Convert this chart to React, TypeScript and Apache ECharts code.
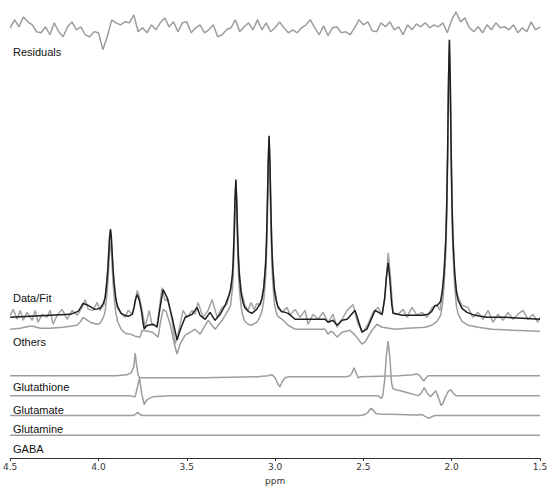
import React, { useEffect, useRef } from "react";
import * as echarts from "echarts";

// ppm / intensity pairs (intensity in display units relative to each trace's baseline)
const fitPoints: [number, number][] = [
  [4.5, 0], [4.387, 1], [4.274, 2], [4.16, 3], [4.115, 6], [4.1, 10], [4.087, 14], [4.07, 13], [4.058, 12],
  [4.03, 9], [4.019, 8], [3.991, 9], [3.972, 14], [3.962, 20], [3.952, 37], [3.947, 48], [3.942, 64],
  [3.937, 81], [3.932, 89], [3.927, 81], [3.922, 64], [3.917, 48], [3.912, 36], [3.902, 19], [3.892, 11],
  [3.872, 4], [3.85, 2], [3.832, 1], [3.809, 3], [3.798, 10], [3.792, 17], [3.781, 23], [3.77, 18],
  [3.758, 8], [3.748, -5], [3.741, -12], [3.73, -9], [3.719, -8], [3.69, -7], [3.668, -10], [3.651, 10],
  [3.634, 28], [3.611, 20], [3.583, 0], [3.566, -14], [3.555, -23], [3.538, -13], [3.509, 0], [3.47, 3],
  [3.442, 10], [3.425, 2], [3.396, -2], [3.368, 5], [3.34, -3], [3.311, 3], [3.283, 12], [3.262, 22],
  [3.252, 28], [3.242, 42], [3.237, 57], [3.232, 84], [3.227, 119], [3.222, 139], [3.217, 116],
  [3.212, 82], [3.207, 58], [3.202, 42], [3.192, 24], [3.182, 15], [3.172, 10], [3.152, 6], [3.132, 4],
  [3.104, 8], [3.084, 14], [3.074, 19], [3.064, 30], [3.054, 52], [3.049, 74], [3.044, 110], [3.039, 156],
  [3.034, 183], [3.029, 156], [3.024, 110], [3.019, 74], [3.014, 52], [3.004, 28], [2.994, 17], [2.984, 11],
  [2.964, 6], [2.944, 5], [2.926, 4], [2.887, -2], [2.802, -2], [2.717, -2], [2.7, -5], [2.672, -3],
  [2.649, -8], [2.621, -3], [2.592, -2], [2.547, 7], [2.508, -15], [2.48, -12], [2.434, 7], [2.394, 3],
  [2.38, 18], [2.37, 40], [2.36, 55], [2.35, 38], [2.34, 14], [2.332, 4], [2.281, 2], [2.225, 2],
  [2.168, 2], [2.134, 3], [2.113, 6], [2.094, 12], [2.083, 12], [2.063, 16], [2.053, 27], [2.043, 45],
  [2.033, 80], [2.028, 114], [2.023, 168], [2.018, 239], [2.013, 280], [2.008, 239], [2.003, 168],
  [1.998, 114], [1.993, 80], [1.983, 45], [1.973, 25], [1.963, 17], [1.942, 9], [1.913, 5], [1.868, 2],
  [1.8, 0], [1.7, 0], [1.6, -1], [1.5, -2],
];

const dataPoints: [number, number][] = [
  [4.5, 2], [4.483, 8], [4.46, -2], [4.443, 7], [4.426, -3], [4.404, 5], [4.375, -3], [4.358, 7],
  [4.342, -5], [4.319, 3], [4.291, 0], [4.274, 7], [4.257, -7], [4.234, 2], [4.206, 8], [4.177, -2],
  [4.149, 7], [4.121, 2], [4.092, 10], [4.075, 18], [4.058, 8], [4.03, 7], [4.008, 15], [3.991, 7],
  [3.968, 13], [3.957, 26], [3.947, 50], [3.942, 66], [3.937, 80], [3.932, 87], [3.927, 76], [3.922, 60],
  [3.917, 44], [3.911, 28], [3.894, 10], [3.872, 4], [3.849, 0], [3.832, 7], [3.809, 3], [3.792, 15],
  [3.781, 27], [3.77, 22], [3.753, 7], [3.736, -10], [3.713, 7], [3.696, -8], [3.668, -8], [3.64, 30],
  [3.622, 17], [3.606, 18], [3.583, -3], [3.566, -27], [3.549, -17], [3.521, 7], [3.498, 0], [3.47, 7],
  [3.453, 3], [3.436, 15], [3.408, 0], [3.379, 7], [3.357, 18], [3.328, 0], [3.3, 10], [3.272, 13],
  [3.255, 25], [3.242, 40], [3.237, 56], [3.232, 85], [3.227, 117], [3.222, 137], [3.217, 118],
  [3.212, 86], [3.207, 60], [3.202, 46], [3.192, 27], [3.182, 20], [3.17, 12], [3.153, 7], [3.136, 15],
  [3.119, 8], [3.102, 14], [3.084, 12], [3.074, 20], [3.064, 31], [3.054, 55], [3.049, 75], [3.044, 112],
  [3.039, 155], [3.034, 181], [3.029, 157], [3.024, 113], [3.019, 77], [3.014, 55], [3.004, 30],
  [2.994, 20], [2.984, 9], [2.96, 5], [2.932, 10], [2.915, 2], [2.887, 8], [2.858, 0], [2.83, 7],
  [2.813, -7], [2.785, 3], [2.757, -2], [2.728, 5], [2.7, -5], [2.672, 3], [2.649, -10], [2.621, -2],
  [2.592, 7], [2.559, 13], [2.53, -7], [2.502, -15], [2.474, -7], [2.445, 5], [2.417, 10], [2.394, 2],
  [2.377, 23], [2.365, 50], [2.36, 65], [2.355, 58], [2.349, 45], [2.332, 5], [2.304, 3], [2.275, 8],
  [2.253, 0], [2.225, 10], [2.196, 2], [2.168, 5], [2.14, 0], [2.111, 10], [2.083, 12], [2.066, 7],
  [2.053, 24], [2.043, 48], [2.033, 78], [2.028, 116], [2.023, 165], [2.018, 241], [2.013, 278],
  [2.008, 236], [2.003, 171], [1.998, 111], [1.993, 83], [1.983, 42], [1.973, 28], [1.963, 20],
  [1.942, 12], [1.908, 10], [1.88, 0], [1.851, 5], [1.823, -2], [1.794, 7], [1.766, -5], [1.738, 3],
  [1.709, -3], [1.681, 5], [1.653, -2], [1.625, 3], [1.596, 7], [1.568, -2], [1.54, 3], [1.512, -5], [1.5, 0],
];

const othersPoints: [number, number][] = [
  [4.5, 0], [4.443, 1], [4.39, 3], [4.37, 3], [4.33, 1], [4.274, 1], [4.2, 2], [4.121, 4], [4.1, 8],
  [4.087, 12], [4.07, 10], [4.047, 7], [4.008, 5], [3.991, 6], [3.972, 12], [3.962, 18], [3.952, 35],
  [3.947, 46], [3.942, 62], [3.937, 79], [3.932, 87], [3.927, 79], [3.922, 62], [3.917, 46], [3.912, 34],
  [3.902, 17], [3.892, 8], [3.872, 0], [3.849, -4], [3.82, -5], [3.792, -7], [3.764, -8], [3.753, -1],
  [3.72, -2], [3.696, -3], [3.662, -8], [3.651, 5], [3.634, 20], [3.617, 18], [3.594, 5], [3.566, -18],
  [3.555, -25], [3.538, -15], [3.509, -6], [3.47, -2], [3.453, 0], [3.425, -5], [3.379, 9], [3.34, 0],
  [3.3, 9], [3.266, 19], [3.252, 24], [3.242, 40], [3.237, 53], [3.232, 82], [3.227, 116], [3.222, 137],
  [3.217, 114], [3.212, 80], [3.207, 56], [3.202, 40], [3.192, 22], [3.182, 13], [3.172, 8], [3.152, 5],
  [3.132, 4], [3.104, 7], [3.084, 13], [3.074, 18], [3.064, 29], [3.054, 51], [3.049, 73], [3.044, 108],
  [3.039, 154], [3.034, 181], [3.029, 154], [3.024, 108], [3.019, 72], [3.014, 50], [3.004, 26],
  [2.994, 17], [2.984, 13], [2.96, 10], [2.926, 4], [2.887, 0], [2.8, 0], [2.717, 0], [2.7, -5],
  [2.686, -2], [2.672, -3], [2.649, -8], [2.621, -3], [2.576, -1], [2.547, -6], [2.508, -15],
  [2.491, -13], [2.451, -1], [2.423, 5], [2.394, 2], [2.321, 0], [2.25, 1], [2.151, 2], [2.113, 4],
  [2.083, 8], [2.063, 14], [2.053, 24], [2.043, 44], [2.033, 78], [2.028, 112], [2.023, 166],
  [2.018, 237], [2.013, 278], [2.008, 237], [2.003, 166], [1.998, 112], [1.993, 78], [1.983, 43],
  [1.973, 23], [1.963, 15], [1.942, 8], [1.908, 4], [1.85, 2], [1.772, 0], [1.65, -1], [1.512, -2], [1.5, -2],
];

const glutathionePoints: [number, number][] = [
  [4.5, 0], [3.9, 0], [3.84, 1], [3.815, 3], [3.8, 9], [3.792, 23], [3.785, 12], [3.775, 0], [3.765, -2],
  [3.7, -2], [3.4, -2], [3.1, -1], [3.04, 0], [3.017, 1], [3.0, -2], [2.985, -8], [2.972, -11],
  [2.96, -6], [2.943, -2], [2.92, -1], [2.6, -1], [2.576, 0], [2.565, 3], [2.553, 8], [2.541, 3],
  [2.53, -2], [2.515, -1], [2.3, 0], [2.22, 1], [2.197, 2], [2.18, 0], [2.165, -4], [2.157, -5],
  [2.145, -2], [2.134, 0], [1.5, 0],
];

const glutamatePoints: [number, number][] = [
  [4.5, 0], [3.82, 0], [3.8, -1], [3.792, -1], [3.78, 8], [3.768, 18], [3.755, 2], [3.741, -9],
  [3.73, -5], [3.715, -3], [3.69, -1], [3.6, 0], [2.44, 0], [2.423, 0], [2.41, -1], [2.4, -3],
  [2.39, 0], [2.38, 15], [2.37, 40], [2.36, 55], [2.35, 38], [2.34, 12], [2.332, 7], [2.315, 6],
  [2.29, 5], [2.25, 3], [2.21, 1], [2.19, 0], [2.175, 2], [2.165, 5], [2.155, 8], [2.14, 3], [2.12, -1],
  [2.105, 2], [2.09, 5], [2.075, -2], [2.06, -10], [2.05, -8], [2.035, -1], [2.02, 4], [2.005, 6],
  [1.99, 2], [1.975, 0], [1.5, 0],
];

const glutaminePoints: [number, number][] = [
  [4.5, 0], [3.8, 0], [3.785, 2], [3.775, 3], [3.765, 1], [3.75, 0], [2.52, 0], [2.49, 1], [2.475, 3],
  [2.463, 6], [2.453, 7], [2.443, 5], [2.43, 2], [2.41, 1.5], [2.3, 1], [2.2, 0.5], [2.17, 1],
  [2.15, -1], [2.129, -3], [2.11, -1], [2.095, 0], [1.5, 0],
];

const gabaPoints: [number, number][] = [[4.5, 0], [1.5, 0]];

// residuals sampled every 0.025 ppm starting at 4.5 ppm
const residualStartPpm = 4.5;
const residualStepPpm = 0.025;
const residualValues: number[] = [
  0, 8, 1, 11, 6, 3, -4, -5, 1, -7, 5, -4, -9, 1, 6, -2, 1, -7, -9, -4,
  -5, -22, -9, 8, 5, 3, 6, 5, 13, -4, 0, -5, 3, -2, 5, 10, 1, 6, -4, 5,
  6, -5, 0, 3, -5, -2, 3, -9, -7, -2, 0, 8, -4, 1, 5, -2, 8, -2, 5, -4,
  0, 6, 0, -5, -2, -5, 0, 3, 8, 0, -7, 2, -8, 0, 1, -5, -4, -7, 0, 8,
  3, 6, -3, -4, 5, 1, 6, -2, 1, -7, 3, -2, 4, 1, 5, 0, 3, 1, 5, -5,
  8, 16, 6, 10, 0, -4, 1, -5, 3, -2, 5, 0, 1, -2, 3, -5, 0, -4, 6, -2, 1,
];

const xTicks = { min: 1.5, max: 4.5, interval: 0.5 };

// vertical stacking offsets (layout)
const OFFSETS = {
  residual: 434,
  dataFit: 142,
  others: 130,
  glutathione: 83,
  glutamate: 63,
  glutamine: 43,
  gaba: 23,
};

const LABELS: { text: string; y: number }[] = [
  { text: "Residuals", y: 52 },
  { text: "Data/Fit", y: 298 },
  { text: "Others", y: 342 },
  { text: "Glutathione", y: 387 },
  { text: "Glutamate", y: 410 },
  { text: "Glutamine", y: 429 },
  { text: "GABA", y: 449 },
];

function shift(points: [number, number][], off: number): [number, number][] {
  return points.map(([x, y]) => [x, y + off]);
}

export default function App() {
  const ref = useRef<HTMLDivElement>(null);
  useEffect(() => {
    if (!ref.current) return;
    const chart = echarts.init(ref.current, undefined, { renderer: "svg" });
    const residualPts: [number, number][] = residualValues.map((v, i) => [
      +(residualStartPpm - i * residualStepPpm).toFixed(3),
      v + OFFSETS.residual,
    ]);
    const gray = "#9d9d9d";
    const mk = (name: string, data: [number, number][], color: string, width: number, z: number) => ({
      name,
      type: "line",
      data,
      showSymbol: false,
      symbol: "none",
      silent: true,
      z,
      lineStyle: { color, width },
    });
    chart.setOption({
      animation: false,
      grid: { left: 10, right: 15, top: 5, bottom: 28, containLabel: false },
      xAxis: {
        type: "value",
        min: xTicks.min,
        max: xTicks.max,
        interval: xTicks.interval,
        inverse: true,
        name: "ppm",
        nameLocation: "middle",
        nameGap: 16,
        nameTextStyle: { fontSize: 9, color: "#333", fontFamily: "DejaVu Sans" },
        axisLine: { show: true, lineStyle: { color: "#333", width: 1 } },
        axisTick: { show: true, length: 3, lineStyle: { color: "#333" } },
        axisLabel: {
          fontSize: 9,
          color: "#333",
          fontFamily: "DejaVu Sans",
          margin: 4,
          formatter: (v: number) => v.toFixed(1),
        },
        splitLine: { show: false },
      },
      yAxis: { type: "value", min: 0, max: 457, show: false },
      graphic: LABELS.map((l) => ({
        type: "text",
        left: 13,
        top: l.y - 6,
        style: {
          text: l.text,
          fontSize: 11,
          fontFamily: "Liberation Sans, Arial, sans-serif",
          fill: "#111",
        },
      })),
      series: [
        mk("Residuals", residualPts, gray, 1.5, 2),
        mk("Others", shift(othersPoints, OFFSETS.others), gray, 1.5, 2),
        mk("Data", shift(dataPoints, OFFSETS.dataFit), "#a3a3a3", 1.5, 3),
        mk("Fit", shift(fitPoints, OFFSETS.dataFit), "#1e1e1e", 1.5, 4),
        mk("Glutathione", shift(glutathionePoints, OFFSETS.glutathione), gray, 1.5, 2),
        mk("Glutamate", shift(glutamatePoints, OFFSETS.glutamate), gray, 1.5, 2),
        mk("Glutamine", shift(glutaminePoints, OFFSETS.glutamine), gray, 1.5, 2),
        mk("GABA", shift(gabaPoints, OFFSETS.gaba), gray, 1.5, 2),
      ],
    });
    return () => chart.dispose();
  }, []);
  return (
    <div
      ref={ref}
      style={{ position: "fixed", left: 0, top: 0, width: 555, height: 490, background: "#fff" }}
    />
  );
}
